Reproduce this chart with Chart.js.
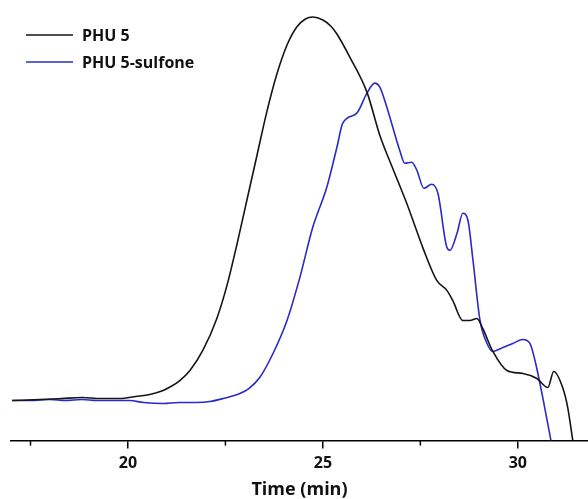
<!DOCTYPE html>
<html>
<head>
<meta charset="utf-8">
<script src="https://cdn.jsdelivr.net/npm/chart.js@4"></script>
<style>
  html, body { margin: 0; padding: 0; background: #fff; }
  #wrap { width: 588px; height: 499px; }
</style>
</head>
<body>
<div id="wrap"><canvas id="gpc"></canvas></div>
<script>
// GPC traces: elution time (min) and detector response (a.u.)
const phu5Time = [17.03, 17.74, 18.30, 18.82, 19.30, 19.79, 20.20, 20.56, 20.90, 21.10, 21.33, 21.59, 21.92, 22.28, 22.54, 22.79, 23.05, 23.31, 23.56, 23.82, 24.08, 24.33, 24.55, 24.74, 25.00, 25.20, 25.36, 25.69, 26.13, 26.46, 26.79, 27.15, 27.41, 27.56, 27.92, 28.18, 28.33, 28.59, 28.77, 28.95, 29.10, 29.36, 29.72, 30.13, 30.49, 30.77, 30.92, 31.15, 31.28, 31.41];
const phu5Signal = [40, 41, 42, 43, 42, 42, 44, 46, 50, 54, 60, 70, 90, 122, 155, 195, 240, 285, 328, 366, 395, 413, 421, 423, 420, 414, 406, 383, 348, 305, 272, 237, 209, 193, 160, 150, 140, 120, 120, 122, 112, 89, 70, 67, 62, 53, 69, 53, 33, 0];

const sulfoneTime = [17.03, 17.50, 18.00, 18.40, 18.82, 19.20, 19.54, 20.05, 20.40, 20.90, 21.30, 21.77, 22.10, 22.44, 22.87, 23.10, 23.38, 23.72, 24.08, 24.41, 24.74, 25.10, 25.36, 25.51, 25.87, 26.13, 26.33, 26.46, 26.64, 26.97, 27.10, 27.28, 27.41, 27.59, 27.79, 27.95, 28.18, 28.26, 28.44, 28.59, 28.72, 28.85, 29.03, 29.21, 29.36, 29.62, 29.87, 30.13, 30.31, 30.44, 30.64, 30.85];
const sulfoneSignal = [40, 40, 41, 40, 41, 40, 40, 40, 38, 37, 38, 38, 39, 42, 47, 52, 63, 87, 120, 163, 213, 253, 293, 317, 327, 347, 357, 353, 333, 290, 277, 278, 270, 252, 256, 247, 193, 190, 207, 227, 220, 180, 120, 97, 89, 93, 97, 101, 97, 80, 43, 0];

const seriesLabels = ['PHU 5', 'PHU 5-sulfone'];
const seriesColors = ['#151515', '#2a2ac8'];
const majorTicks = [20, 25, 30];
const minorTicks = [17.5, 22.5, 27.5];

const toPoints = (xs, ys) => xs.map((x, i) => ({ x: x, y: ys[i] }));

const FONT = '"Open Sans", "Noto Sans", sans-serif';

// Short minor tick marks between the labelled ones
const minorTickPlugin = {
  id: 'minorTicks',
  afterDraw(chart) {
    const sx = chart.scales.x;
    const ctx = chart.ctx;
    const y0 = sx.top;
    ctx.save();
    ctx.strokeStyle = '#000';
    ctx.lineWidth = 1.5;
    minorTicks.forEach(v => {
      const px = sx.getPixelForValue(v);
      ctx.beginPath();
      ctx.moveTo(px, y0);
      ctx.lineTo(px, y0 + 5);
      ctx.stroke();
    });
    ctx.restore();
  }
};

// Legend drawn inside the plot, line sample followed by bold label
const insetLegendPlugin = {
  id: 'insetLegend',
  afterDraw(chart) {
    const ctx = chart.ctx;
    ctx.save();
    ctx.font = 'bold 16px ' + FONT;
    ctx.textBaseline = 'middle';
    chart.data.datasets.forEach((ds, i) => {
      const y = 35 + i * 27;
      ctx.strokeStyle = ds.borderColor;
      ctx.lineWidth = 1.6;
      ctx.beginPath();
      ctx.moveTo(26, y);
      ctx.lineTo(73, y);
      ctx.stroke();
      ctx.fillStyle = '#111';
      ctx.fillText(ds.label, 82, y + 1);
    });
    ctx.restore();
  }
};

new Chart(document.getElementById('gpc'), {
  type: 'line',
  data: {
    datasets: [
      {
        label: seriesLabels[0],
        data: toPoints(phu5Time, phu5Signal),
        borderColor: seriesColors[0],
        borderWidth: 1.6,
        pointRadius: 0,
        cubicInterpolationMode: 'monotone',
        fill: false
      },
      {
        label: seriesLabels[1],
        data: toPoints(sulfoneTime, sulfoneSignal),
        borderColor: seriesColors[1],
        borderWidth: 1.6,
        pointRadius: 0,
        cubicInterpolationMode: 'monotone',
        fill: false
      }
    ]
  },
  options: {
    responsive: true,
    maintainAspectRatio: false,
    animation: false,
    layout: { padding: { left: 11, right: 0, top: 0, bottom: 0 } },
    plugins: {
      legend: { display: false },
      tooltip: { enabled: false }
    },
    scales: {
      x: {
        type: 'linear',
        min: 17.0,
        max: 31.8,
        afterBuildTicks(scale) {
          scale.ticks = majorTicks.map(v => ({ value: v }));
        },
        grid: {
          drawOnChartArea: false,
          drawTicks: true,
          tickLength: 8,
          color: '#000',
          lineWidth: 1.5
        },
        border: { display: true, color: '#000', width: 1.5 },
        ticks: {
          color: '#111',
          padding: 5.4,
          maxRotation: 0,
          font: { family: FONT, size: 16, weight: 'bold' }
        },
        title: {
          display: true,
          text: 'Time (min)',
          color: '#111',
          padding: { top: 2.4, bottom: 0 },
          font: { family: FONT, size: 18, weight: 'bold', lineHeight: 1 }
        }
      },
      y: {
        display: false,
        min: 0,
        max: 440
      }
    }
  },
  plugins: [minorTickPlugin, insetLegendPlugin]
});
</script>
</body>
</html>
